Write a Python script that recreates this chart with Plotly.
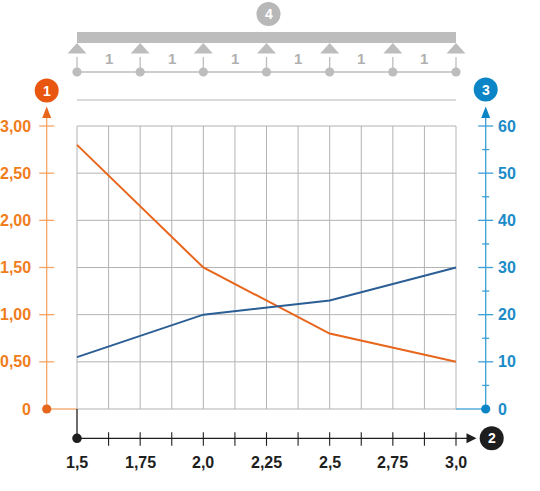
import plotly.graph_objects as go

# ---------------- data ----------------
x_vals = [1.5, 2.0, 2.5, 3.0]
series1_vals = [2.80, 1.50, 0.80, 0.50]      # left axis (1)
series3_vals = [11, 20, 23, 30]              # right axis (3)

x_ticks = [1.5, 1.75, 2.0, 2.25, 2.5, 2.75, 3.0]
x_tick_labels = ["1,5", "1,75", "2,0", "2,25", "2,5", "2,75", "3,0"]
left_ticks = [0, 0.5, 1.0, 1.5, 2.0, 2.5, 3.0]
left_tick_labels = ["0", "0,50", "1,00", "1,50", "2,00", "2,50", "3,00"]
right_ticks = [0, 10, 20, 30, 40, 50, 60]
right_tick_labels = ["0", "10", "20", "30", "40", "50", "60"]
right_minor = [5, 15, 25, 35, 45, 55]
span_labels = ["1", "1", "1", "1", "1", "1"]
supports = [1.5, 1.75, 2.0, 2.25, 2.5, 2.75, 3.0]
grid_x = [1.5, 1.625, 1.75, 1.875, 2.0, 2.125, 2.25, 2.375, 2.5, 2.625, 2.75, 2.875, 3.0]

# ---------------- geometry ----------------
W, H = 540, 491
XMIN, XMAX = 1.5, 3.0
PX_XMIN, PX_XMAX = 77, 456
YMAX = 3.0
PY_Y0, PY_YMAX = 409, 126
Y2_FACTOR = 20.0

kx = (PX_XMAX - PX_XMIN) / (XMAX - XMIN)
ky = (PY_Y0 - PY_YMAX) / YMAX
x_range = [XMIN - PX_XMIN / kx, XMIN + (W - PX_XMIN) / kx]
y_range = [-(H - PY_Y0) / ky, PY_Y0 / ky]


def X(px):
    return XMIN + (px - PX_XMIN) / kx


def Y(py):
    return (PY_Y0 - py) / ky


def dX(px):
    return px / kx


def dY(px):
    return px / ky


ORANGE_LINE = "#e8661b"
ORANGE_AXIS = "#f5a565"
ORANGE_TEXT = "#f07d1c"
ORANGE_BADGE = "#e8560f"
BLUE_LINE = "#2b5e95"
BLUE_AXIS = "#3c9fd6"
BLUE_TEXT = "#1b8bc8"
BLUE_BADGE = "#0c85c6"
GRID = "#b3b3b3"
LIGHT = "#bdbdbd"
DARK = "#1e1e1e"
FONT = "Liberation Sans, Arial, sans-serif"

shapes = []
annotations = []


def line(x0, y0, x1, y1, color, width=1, layer="above"):
    shapes.append(dict(type="line", xref="x", yref="y", x0=x0, y0=y0, x1=x1, y1=y1,
                       line=dict(color=color, width=width), layer=layer))


def dot(xc, yc, r, color, layer="above"):
    shapes.append(dict(type="circle", xref="x", yref="y",
                       x0=xc - dX(r), x1=xc + dX(r), y0=yc - dY(r), y1=yc + dY(r),
                       fillcolor=color, line=dict(width=0), layer=layer))


def badge(xc, yc, text, color):
    dot(xc, yc, 12, color)
    annotations.append(dict(x=xc, y=yc, xref="x", yref="y", text="<b>%s</b>" % text,
                            showarrow=False, font=dict(family=FONT, size=14, color="white"),
                            xanchor="center", yanchor="middle"))


def tri(points, color):
    path = "M " + " L ".join("%f,%f" % p for p in points) + " Z"
    shapes.append(dict(type="path", xref="x", yref="y", path=path,
                       fillcolor=color, line=dict(width=0), layer="above"))


def text(xv, yv, s, color, anchor, size=16, bold=True):
    annotations.append(dict(x=xv, y=yv, xref="x", yref="y",
                            text=("<b>%s</b>" % s) if bold else s, showarrow=False,
                            font=dict(family=FONT, size=size, color=color),
                            xanchor=anchor, yanchor="middle"))


# ---------------- grid ----------------
for gx in grid_x:
    line(gx, 0, gx, YMAX, GRID, 1, "below")
for gy in left_ticks[1:]:
    line(XMIN, gy, XMAX, gy, GRID, 1, "below")
line(XMIN, 0, XMAX, 0, GRID, 1, "below")

# ---------------- left axis (1) ----------------
ax_l = X(46.7)
line(ax_l, 0, ax_l, Y(117), ORANGE_AXIS, 1.3)
tri([(ax_l - dX(4.5), Y(118)), (ax_l + dX(4.5), Y(118)), (ax_l, Y(106.5))], ORANGE_LINE)
line(ax_l, 0, XMIN, 0, ORANGE_AXIS, 1.3)
for t, lab in zip(left_ticks, left_tick_labels):
    if t != 0:
        line(ax_l - dX(7.5), t, ax_l + dX(7.5), t, ORANGE_AXIS, 1.3)
    text(X(32.5), t, lab, ORANGE_TEXT, "right")
dot(ax_l, 0, 4.6, ORANGE_LINE)
badge(ax_l, Y(90.5), "1", ORANGE_BADGE)

# ---------------- right axis (3) ----------------
ax_r = X(485.7)
line(ax_r, 0, ax_r, Y(117), BLUE_AXIS, 1.3)
tri([(ax_r - dX(4.5), Y(118)), (ax_r + dX(4.5), Y(118)), (ax_r, Y(106.5))], BLUE_BADGE)
line(XMAX, 0, ax_r, 0, BLUE_AXIS, 1.3)
for t, lab in zip(right_ticks, right_tick_labels):
    tv = t / Y2_FACTOR
    if t != 0:
        line(ax_r - dX(7.5), tv, ax_r + dX(7.5), tv, BLUE_AXIS, 1.3)
    text(X(496), tv, lab, BLUE_TEXT, "left")
for t in right_minor:
    tv = t / Y2_FACTOR
    line(ax_r - dX(3.5), tv, ax_r + dX(3.5), tv, BLUE_AXIS, 1.3)
dot(ax_r, 0, 4.6, BLUE_BADGE)
badge(ax_r, Y(89.5), "3", BLUE_BADGE)

# ---------------- bottom axis (2) ----------------
ax_b = Y(438.3)
line(XMIN, 0, XMIN, ax_b, DARK, 1.3)
line(XMIN, ax_b, X(468), ax_b, DARK, 1.3)
tri([(X(466.5), ax_b + dY(5)), (X(466.5), ax_b - dY(5)), (X(476.5), ax_b)], DARK)
for gx in grid_x[1:]:
    line(gx, ax_b + dY(6), gx, ax_b - dY(7.5), DARK, 1.1)
for t, lab in zip(x_ticks, x_tick_labels):
    text(t, Y(462.5), lab, DARK, "center")
dot(XMIN, ax_b, 4.8, DARK)
badge(X(491.7), ax_b, "2", DARK)

# ---------------- beam scheme (4) ----------------
shapes.append(dict(type="rect", xref="x", yref="y", x0=XMIN, x1=XMAX, y0=Y(43), y1=Y(32),
                   fillcolor=LIGHT, line=dict(width=0), layer="above"))
line(XMIN, Y(72), XMAX, Y(72), LIGHT, 1.5)
for s in supports:
    tri([(s - dX(9.5), Y(53.5)), (s + dX(9.5), Y(53.5)), (s, Y(43))], LIGHT)
    line(s, Y(57), s, Y(68), LIGHT, 1.3)
    dot(s, Y(72), 4.6, LIGHT)
for i, lab in enumerate(span_labels):
    text((supports[i] + supports[i + 1]) / 2, Y(58.5), lab, "#b0b0b0", "center", size=15)
line(XMIN, Y(100), XMAX, Y(100), "#cfcfcf", 1.5)
badge(X(268.5), Y(14), "4", "#b8b8b8")

# ---------------- data traces ----------------
fig = go.Figure()
fig.add_trace(go.Scatter(x=x_vals, y=series1_vals, mode="lines", yaxis="y",
                         line=dict(color=ORANGE_LINE, width=2), showlegend=False,
                         hoverinfo="skip"))
fig.add_trace(go.Scatter(x=x_vals, y=series3_vals, mode="lines", yaxis="y2",
                         line=dict(color=BLUE_LINE, width=2), showlegend=False,
                         hoverinfo="skip"))

fig.update_layout(
    width=W, height=H, autosize=False,
    margin=dict(l=0, r=0, t=0, b=0, pad=0),
    paper_bgcolor="white", plot_bgcolor="white",
    xaxis=dict(range=x_range, domain=[0, 1], visible=False, fixedrange=True),
    yaxis=dict(range=y_range, domain=[0, 1], visible=False, fixedrange=True),
    yaxis2=dict(range=[y_range[0] * Y2_FACTOR, y_range[1] * Y2_FACTOR], overlaying="y",
                side="right", visible=False, fixedrange=True),
    shapes=shapes, annotations=annotations,
    showlegend=False,
)

fig.write_html("out.html", config={"displayModeBar": False},
               post_script="document.body.style.margin='0';document.body.style.padding='0';")
